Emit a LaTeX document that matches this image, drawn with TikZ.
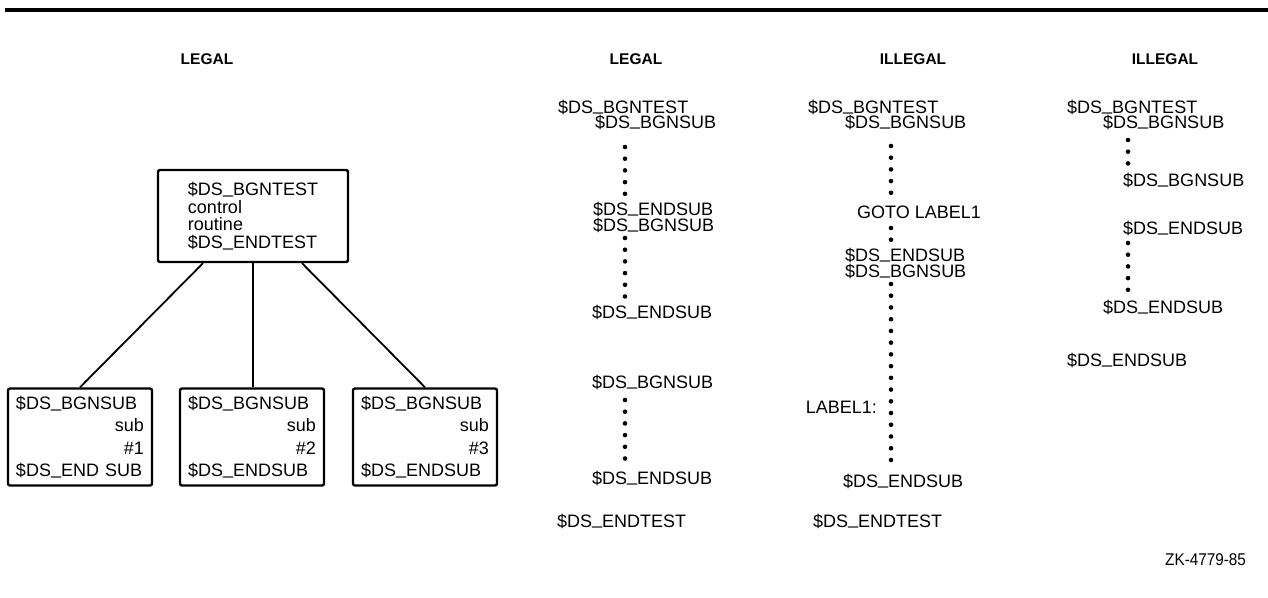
\documentclass[tikz,border=0pt]{standalone}
\usepackage{fontspec}
\setmainfont{Liberation Sans}
\newfontfamily\narrowfont[FakeStretch=0.9]{Liberation Sans}
\newcommand{\us}{\raisebox{0.12em}{\_}}
\usetikzlibrary{positioning}

\begin{document}
\begin{tikzpicture}[
  x=1pt, y=-1pt,
  txt/.style={anchor=base west, inner sep=0pt, font=\fontsize{18}{18}\selectfont},
  head/.style={anchor=base, inner sep=0pt, font=\bfseries\fontsize{15.5}{16}\selectfont},
  box/.style={draw, line width=2.4pt, rounded corners=2pt, align=left,
    font=\fontsize{18}{17.5}\selectfont},
  subbox/.style={box, minimum width=144pt, minimum height=97pt, text width=128pt,
    inner xsep=8pt, font=\fontsize{18}{22.5}\selectfont},
  branch/.style={line width=1.8pt},
  dots/.style={line width=4.6pt, line cap=round, dash pattern=on 0pt off 11.7pt},
]
  \useasboundingbox (0,0) rectangle (1268,597);
  \draw[line width=3.8pt] (5,10) -- (1268,10);

  % headings
  \node[head] (h1) at (207,64) {LEGAL};
  \node[head] (h2) at (636,64) {LEGAL};
  \node[head] (h3) at (913,64) {ILLEGAL};
  \node[head] (h4) at (1165,64) {ILLEGAL};

  % tree
  \node[box, minimum width=190pt, minimum height=92pt] (ctl) at (253,216)
    {\$DS\us BGNTEST\\control\\routine\\\$DS\us ENDTEST};
  \node[subbox] (sub1) at (80,437)
    {\$DS\us BGNSUB\\\mbox{}\hfill sub\\\mbox{}\hfill\#1\\\mbox{\$DS\us END SUB}};
  \node[subbox] (sub2) at (252,437)
    {\$DS\us BGNSUB\\\mbox{}\hfill sub\\\mbox{}\hfill\#2\\\$DS\us ENDSUB};
  \node[subbox] (sub3) at (425,437)
    {\$DS\us BGNSUB\\\mbox{}\hfill sub\\\mbox{}\hfill\#3\\\$DS\us ENDSUB};

  \draw[branch] ([xshift=-50pt]ctl.south) -- (sub1.north);
  \draw[branch] (ctl.south) -- (ctl.south |- sub2.north);
  \draw[branch] ([xshift=49pt]ctl.south) -- (sub3.north);

  % second column
  \node[txt] (a1) at (558,113) {\$DS\us BGNTEST};
  \node[txt] (a2) at (595,128) {\$DS\us BGNSUB};
  \node[txt] (a3) at (593,215) {\$DS\us ENDSUB};
  \node[txt] (a4) at (593,231) {\$DS\us BGNSUB};
  \node[txt] (a5) at (592,318) {\$DS\us ENDSUB};
  \node[txt] (a6) at (592,388) {\$DS\us BGNSUB};
  \node[txt] (a7) at (592,484) {\$DS\us ENDSUB};
  \node[txt] (a8) at (557,527) {\$DS\us ENDTEST};
  \draw[dots] (625,147) -- (625,195);
  \draw[dots] (625,238) -- (625,297);
  \draw[dots] (625,400) -- (625,459);

  % third column
  \node[txt] (b1) at (808,113) {\$DS\us BGNTEST};
  \node[txt] (b2) at (845,128) {\$DS\us BGNSUB};
  \node[txt] (b3) at (857,218) {GOTO LABEL1};
  \node[txt] (b4) at (845,261) {\$DS\us ENDSUB};
  \node[txt] (b5) at (845,277) {\$DS\us BGNSUB};
  \node[txt, anchor=base east] (b6) at (877,413) {LABEL1:};
  \node[txt] (b7) at (843,487) {\$DS\us ENDSUB};
  \node[txt] (b8) at (813,527) {\$DS\us ENDTEST};
  \draw[dots] (891,146) -- (891,194);
  \draw[dots] (891,228) -- (891,241);
  \draw[dots, dash pattern=on 0pt off 11.73pt] (891,284) -- (891,461);

  % fourth column
  \node[txt] (c1) at (1067,113) {\$DS\us BGNTEST};
  \node[txt] (c2) at (1103,128) {\$DS\us BGNSUB};
  \node[txt] (c3) at (1123,186) {\$DS\us BGNSUB};
  \node[txt] (c4) at (1123,234) {\$DS\us ENDSUB};
  \node[txt] (c5) at (1103,313) {\$DS\us ENDSUB};
  \node[txt] (c6) at (1067,366) {\$DS\us ENDSUB};
  \draw[dots] (1128,140) -- (1128,164);
  \draw[dots] (1128,243) -- (1128,291);

  \node[txt, font=\narrowfont\fontsize{17}{17}\selectfont] (zk) at (1165,565) {ZK-4779-85};
\end{tikzpicture}
\end{document}
